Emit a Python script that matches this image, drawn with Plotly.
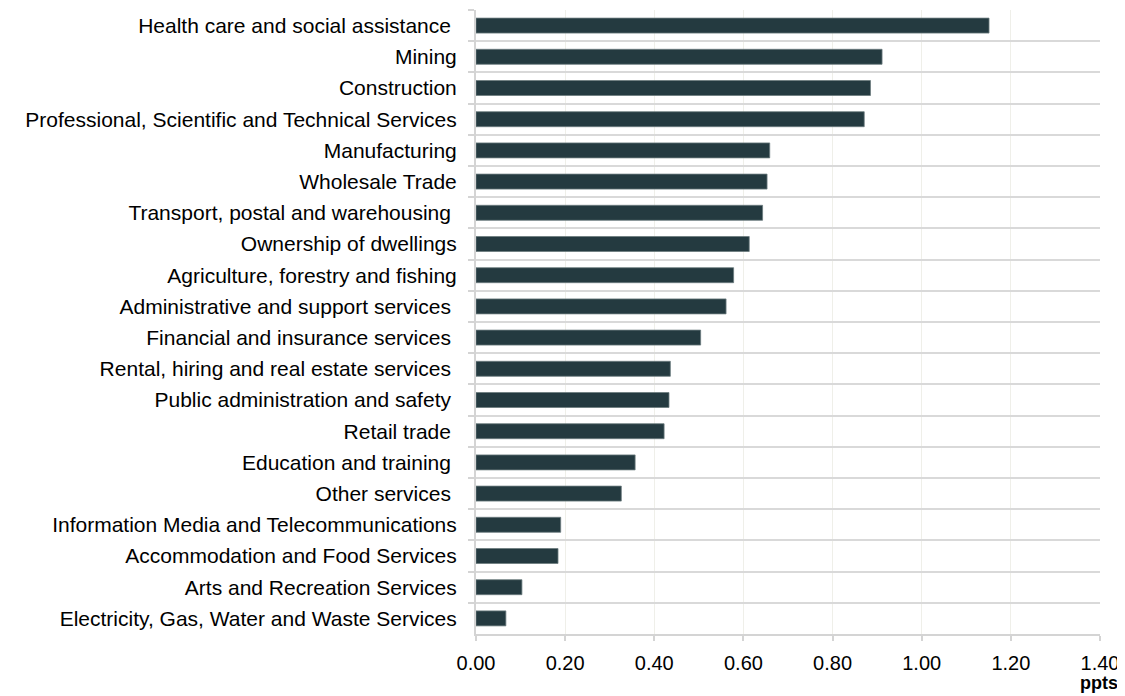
import plotly.graph_objects as go

categories = [
    "Health care and social assistance\u00a0",
    "Mining",
    "Construction",
    "Professional, Scientific and Technical Services",
    "Manufacturing",
    "Wholesale Trade",
    "Transport, postal and warehousing\u00a0",
    "Ownership of dwellings",
    "Agriculture, forestry and fishing",
    "Administrative and support services\u00a0",
    "Financial and insurance services\u00a0",
    "Rental, hiring and real estate services\u00a0",
    "Public administration and safety\u00a0",
    "Retail trade\u00a0",
    "Education and training\u00a0",
    "Other services\u00a0",
    "Information Media and Telecommunications",
    "Accommodation and Food Services",
    "Arts and Recreation Services",
    "Electricity, Gas, Water and Waste Services",
]
values = [1.151, 0.911, 0.885, 0.871, 0.659, 0.653, 0.643, 0.613, 0.578, 0.561,
          0.504, 0.436, 0.433, 0.422, 0.357, 0.326, 0.190, 0.184, 0.103, 0.067]
x_ticks = [0, 0.2, 0.4, 0.6, 0.8, 1.0, 1.2, 1.4]
x_title = "ppts"

FONT = "Arial, 'Liberation Sans', sans-serif"

W, H = 1117, 688
L, R, T, B = 468, 25, 2, 62
plot_w = W - L - R

fig = go.Figure(go.Bar(
    x=values, y=categories, orientation="h",
    marker=dict(color="#243a40", line=dict(color="#6b7b7e", width=0.8)),
    width=0.48,
))

fig.update_layout(
    width=W, height=H,
    margin=dict(l=L, r=R, t=T, b=B),
    plot_bgcolor="white", paper_bgcolor="white",
    font=dict(family=FONT, size=20, color="#000000"),
    showlegend=False,
    xaxis=dict(
        range=[0, 1.4], tickvals=x_ticks, tickformat=".2f",
        showgrid=True, gridcolor="#efefe9", gridwidth=1,
        showline=True, linecolor="#d4d4d4", linewidth=2,
        ticks="outside", ticklen=5, tickcolor="#d4d4d4", tickwidth=2,
        tickfont=dict(size=20, family=FONT, color="#000000"),
        ticklabelstandoff=5,
        zeroline=False,
    ),
    yaxis=dict(
        autorange="reversed", type="category",
        tickson="boundaries", ticks="outside", ticklen=6,
        tickcolor="#d4d4d4", tickwidth=2,
        showgrid=True, gridcolor="#d9d9d9", gridwidth=2,
        showline=True, linecolor="#d4d4d4", linewidth=2,
        tickfont=dict(size=21, family=FONT, color="#000000"),
        ticklabelstandoff=13,
    ),
    annotations=[dict(
        text="<b>" + x_title + "</b>", xref="paper", yref="paper",
        x=1.0 + 20 / plot_w, y=0, xanchor="right", yanchor="middle", yshift=-49,
        showarrow=False, font=dict(size=18, family=FONT, color="#000000"),
    )],
)

fig.write_html("out.html")
